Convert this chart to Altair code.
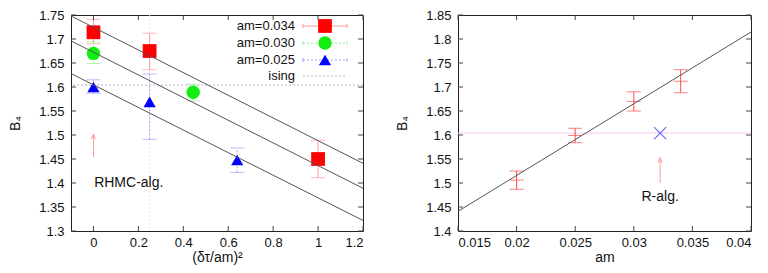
import altair as alt
import pandas as pd

FONT = "Liberation Sans"
W, H = 292, 216

# ---------------- left panel data ----------------
l_series = ["am=0.034", "am=0.030", "am=0.025"]
l_colors = ["#ff0000", "#11ee11", "#0000ff"]
l_bar_colors = ["#ff9a9a", "#99ee99", "#a0a0ff"]
l_shapes = ["square", "circle", "triangle-up"]
l_sizes = [190, 180, 150]

x034 = [0.0, 0.25, 1.0]
y034 = [1.714, 1.675, 1.450]
lo034 = [1.690, 1.636, 1.411]
hi034 = [1.741, 1.712, 1.489]

x030 = [0.0, 0.444]
y030 = [1.670, 1.589]
lo030 = [1.649, 1.571]
hi030 = [1.694, 1.606]

x025 = [0.0, 0.25, 0.64]
y025 = [1.600, 1.569, 1.448]
lo025 = [1.587, 1.491, 1.422]
hi025 = [1.615, 1.627, 1.473]

fit_x = [-0.1, 1.2]
fit_034 = [1.748, 1.441]
fit_030 = [1.696, 1.389]
fit_025 = [1.628, 1.322]

ising_b4 = 1.604
l_vline_x = 0.25
l_xticks = [0.0, 0.2, 0.4, 0.6, 0.8, 1.0, 1.2]
l_yticks = [1.3, 1.35, 1.4, 1.45, 1.5, 1.55, 1.6, 1.65, 1.7, 1.75]
l_arrow = {"x": [0.0], "y1": [1.454], "y2": [1.502]}
l_note = {"x": [0.003], "y": [1.401], "text": ["RHMC-alg."]}

# ---------------- right panel data ----------------
r_am = [0.02, 0.025, 0.03, 0.034]
r_b4 = [1.506, 1.599, 1.670, 1.712]
r_lo = [1.487, 1.584, 1.650, 1.688]
r_hi = [1.525, 1.614, 1.690, 1.736]
r_fit_x = [0.015, 0.04]
r_fit_y = [1.441, 1.8146]
r_ralg = {"x": [0.03225], "y": [1.604]}
r_arrow = {"x": [0.03225], "y1": [1.500], "y2": [1.553]}
r_note = {"x": [0.03225], "y": [1.470], "text": ["R-alg."]}
r_xticks = [0.015, 0.02, 0.025, 0.03, 0.035, 0.04]
r_yticks = [1.4, 1.45, 1.5, 1.55, 1.6, 1.65, 1.7, 1.75, 1.8, 1.85]

ARROW = "M-0.4,1L0,0L0.4,1"
XMARK = "M-1,-1L1,1M-1,1L1,-1"


class Panel:
    def __init__(self, xdom, ydom, xticks, yticks, xtitle, w):
        self.xs = alt.Scale(domain=xdom, nice=False, zero=False)
        self.ys = alt.Scale(domain=ydom, nice=False, zero=False)
        self.xa = alt.Axis(values=xticks, format="~g", title=xtitle, labelOverlap=False)
        self.ya = alt.Axis(values=yticks, format="~g", title="B₄", labelOverlap=False)
        self.xticks, self.yticks, self.w = xticks, yticks, w
        self.layers = []

    def X(self, f):
        return alt.X(f + ":Q", scale=self.xs, axis=self.xa)

    def Y(self, f):
        return alt.Y(f + ":Q", scale=self.ys, axis=self.ya)

    def add(self, c):
        self.layers.append(c)

    def frame_ticks(self):
        tx = pd.DataFrame({"v": self.xticks})
        ty = pd.DataFrame({"v": self.yticks})
        c = "#444"
        w = self.w
        self.add(alt.Chart(tx).mark_rule(color=c, strokeWidth=1).encode(
            x=self.X("v"), y=alt.value(H), y2=alt.value(H - 5)))
        self.add(alt.Chart(tx).mark_rule(color=c, strokeWidth=1).encode(
            x=self.X("v"), y=alt.value(0), y2=alt.value(5)))
        self.add(alt.Chart(ty).mark_rule(color=c, strokeWidth=1).encode(
            y=self.Y("v"), x=alt.value(0), x2=alt.value(5)))
        self.add(alt.Chart(ty).mark_rule(color=c, strokeWidth=1).encode(
            y=self.Y("v"), x=alt.value(w - 5), x2=alt.value(w)))

    def chart(self):
        return alt.layer(*self.layers).properties(width=self.w, height=H)


# ================= LEFT =================
L = Panel([-0.1, 1.2], [1.3, 1.75], l_xticks, l_yticks, "(δτ/am)²", W)

L.add(alt.Chart(pd.DataFrame({"x": fit_x, "y": fit_034})).mark_point(opacity=0).encode(
    x=L.X("x"), y=L.Y("y")))
L.add(alt.Chart(pd.DataFrame({"y": [ising_b4]})).mark_rule(
    color="#b4b4d8", strokeDash=[2, 2], strokeWidth=1).encode(y=L.Y("y")))
L.add(alt.Chart(pd.DataFrame({"x": [l_vline_x]})).mark_rule(
    color="#f7dcea", strokeDash=[2, 2], strokeWidth=1).encode(x=L.X("x")))

series = [(x034, y034, lo034, hi034), (x030, y030, lo030, hi030), (x025, y025, lo025, hi025)]
for i, (xs, ys, los, his) in enumerate(series):
    df = pd.DataFrame({"x": xs, "y": ys, "lo": los, "hi": his})
    kw = {} if i == 0 else {"strokeDash": [2, 2]}
    L.add(alt.Chart(df).mark_rule(color=l_bar_colors[i], strokeWidth=1, **kw).encode(
        x=L.X("x"), y=L.Y("lo"), y2="hi:Q"))
    for f in ["lo", "hi"]:
        L.add(alt.Chart(df).mark_tick(orient="horizontal", size=14, thickness=1,
                                      color=l_bar_colors[i], **kw).encode(x=L.X("x"), y=L.Y(f)))
for i, (xs, ys, los, his) in enumerate(series):
    df = pd.DataFrame({"x": xs, "y": ys})
    L.add(alt.Chart(df).mark_point(shape=l_shapes[i], filled=True, size=l_sizes[i],
                                   opacity=1, color=l_colors[i]).encode(x=L.X("x"), y=L.Y("y")))

for fy in [fit_034, fit_030, fit_025]:
    df = pd.DataFrame({"x": fit_x, "y": fy})
    L.add(alt.Chart(df).mark_line(color="#555555", strokeWidth=1).encode(x=L.X("x"), y=L.Y("y")))

adf = pd.DataFrame(l_arrow)
L.add(alt.Chart(adf).mark_rule(color="#ff9a9a", strokeWidth=1).encode(
    x=L.X("x"), y=L.Y("y1"), y2="y2:Q"))
L.add(alt.Chart(adf).mark_point(shape=ARROW, size=100, filled=False, opacity=1,
                                color="#ff9a9a", strokeWidth=1).encode(x=L.X("x"), y=L.Y("y2")))
L.add(alt.Chart(pd.DataFrame(l_note)).mark_text(
    align="left", baseline="middle", font=FONT, fontSize=14, color="#111").encode(
    x=L.X("x"), y=L.Y("y"), text="text:N"))

one = pd.DataFrame({"a": [0]})
leg_labels = l_series + ["ising"]
row_y = [11, 28, 45, 61]
for i, lab in enumerate(leg_labels):
    yy = row_y[i]
    L.add(alt.Chart(one).mark_text(align="right", baseline="middle", font=FONT,
                                   fontSize=13, color="#111").encode(
        x=alt.value(224), y=alt.value(yy), text=alt.value(lab)))
    if i < 3:
        kw = {} if i == 0 else {"strokeDash": [2, 2]}
        L.add(alt.Chart(one).mark_rule(color=l_bar_colors[i], strokeWidth=1, **kw).encode(
            x=alt.value(232), x2=alt.value(276), y=alt.value(yy)))
        for ex in [232, 276]:
            L.add(alt.Chart(one).mark_rule(color=l_bar_colors[i], strokeWidth=1).encode(
                x=alt.value(ex), y=alt.value(yy - 2), y2=alt.value(yy + 2)))
        L.add(alt.Chart(one).mark_point(shape=l_shapes[i], filled=True, size=l_sizes[i],
                                        opacity=1, color=l_colors[i]).encode(
            x=alt.value(254), y=alt.value(yy)))
    else:
        L.add(alt.Chart(one).mark_rule(color="#b4b4d8", strokeDash=[2, 2], strokeWidth=1).encode(
            x=alt.value(232), x2=alt.value(276), y=alt.value(yy)))

L.frame_ticks()
left = L.chart()

# ================= RIGHT =================
R = Panel([0.015, 0.04], [1.4, 1.85], r_xticks, r_yticks, "am", W + 1)

R.add(alt.Chart(pd.DataFrame({"x": r_fit_x, "y": r_fit_y})).mark_point(opacity=0).encode(
    x=R.X("x"), y=R.Y("y")))
R.add(alt.Chart(pd.DataFrame({"y": [ising_b4]})).mark_rule(
    color="#f8c8f4", strokeWidth=1).encode(y=R.Y("y")))

rdf = pd.DataFrame({"x": r_am, "y": r_b4, "lo": r_lo, "hi": r_hi})
RED = "#ff4a4a"
R.add(alt.Chart(rdf).mark_rule(color=RED, strokeWidth=1).encode(
    x=R.X("x"), y=R.Y("lo"), y2="hi:Q"))
for f in ["lo", "hi", "y"]:
    R.add(alt.Chart(rdf).mark_tick(orient="horizontal", size=14, thickness=1, color=RED).encode(
        x=R.X("x"), y=R.Y(f)))

R.add(alt.Chart(pd.DataFrame({"x": r_fit_x, "y": r_fit_y})).mark_line(
    color="#555555", strokeWidth=1).encode(x=R.X("x"), y=R.Y("y")))

R.add(alt.Chart(pd.DataFrame(r_ralg)).mark_point(
    shape=XMARK, size=144, filled=False, opacity=1, color="#6a6aff", strokeWidth=1.2).encode(
    x=R.X("x"), y=R.Y("y")))

radf = pd.DataFrame(r_arrow)
R.add(alt.Chart(radf).mark_rule(color="#ff9a9a", strokeWidth=1).encode(
    x=R.X("x"), y=R.Y("y1"), y2="y2:Q"))
R.add(alt.Chart(radf).mark_point(shape=ARROW, size=100, filled=False, opacity=1,
                                 color="#ff9a9a", strokeWidth=1).encode(x=R.X("x"), y=R.Y("y2")))
R.add(alt.Chart(pd.DataFrame(r_note)).mark_text(
    align="center", baseline="middle", font=FONT, fontSize=14, color="#111").encode(
    x=R.X("x"), y=R.Y("y"), text="text:N"))

R.frame_ticks()
right = R.chart()

chart = alt.hconcat(left, right, spacing=95, bounds="flush").properties(
    padding={"left": 0, "top": 0, "right": 0, "bottom": 0}
).configure_view(stroke="#222", strokeWidth=1).configure_axis(
    ticks=False, domain=False, grid=False,
    labelFont=FONT, labelFontSize=13, labelColor="#111", labelPadding=7,
    titleFont=FONT, titleFontSize=14, titleFontWeight="normal", titleColor="#111",
).configure_axisY(titlePadding=16).configure_axisX(titlePadding=1, labelPadding=5)

chart.save("out.html", embed_options={"renderer": "svg", "actions": False})
